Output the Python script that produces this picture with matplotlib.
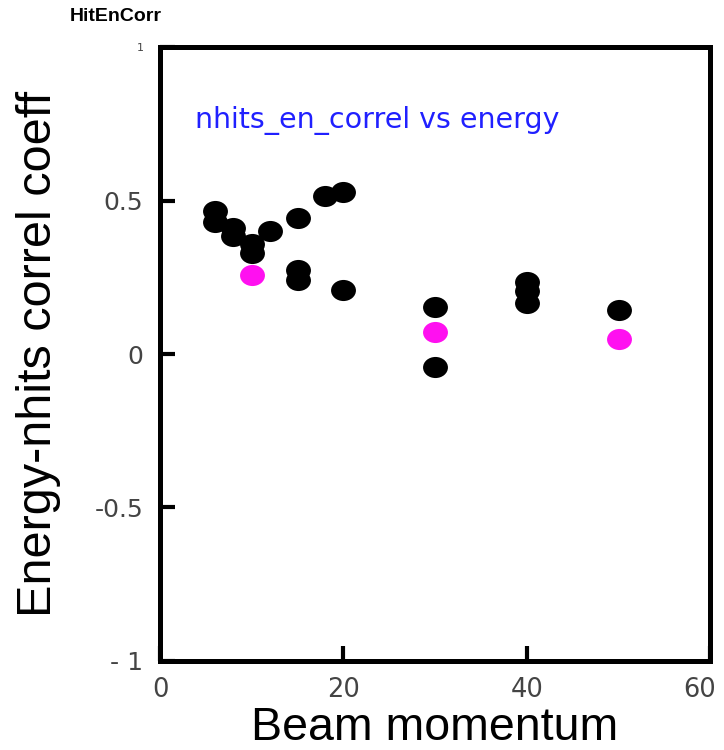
import matplotlib
matplotlib.use("Agg")
import matplotlib.pyplot as plt
from matplotlib.markers import MarkerStyle
from matplotlib.transforms import Affine2D, ScaledTranslation

# ── Data ────────────────────────────────────────────────────────────────────
black_x = [6, 6, 8, 8, 10, 10, 12, 15, 15, 15, 18, 20, 20, 30, 30, 40, 40, 40, 50]
black_y = [0.465, 0.43, 0.41, 0.385, 0.36, 0.33, 0.40, 0.443, 0.274, 0.24,
           0.515, 0.527, 0.208, 0.153, -0.042, 0.235, 0.205, 0.166, 0.143]

magenta_x = [10, 30, 50]
magenta_y = [0.257, 0.072, 0.05]

xticks = [0, 20, 40, 60]
yticks = [-1, -0.5, 0, 0.5, 1]
yticklabels = ["- 1", "-0.5", "0", "0.5", "1"]

plt.rcParams["axes.unicode_minus"] = False

fig = plt.figure(figsize=(7.24, 7.5), dpi=100)
fig.patch.set_facecolor("white")
ax = fig.add_axes([0.221, 0.119, 0.760, 0.818])

# slightly flattened dots, like the original
dot = MarkerStyle("o", transform=Affine2D().scale(1.12, 0.95))
ax.plot(black_x, black_y, linestyle="none", marker=dot, color="black", ms=16, mew=0)
ax.plot(magenta_x, magenta_y, linestyle="none", marker=dot, color="#ff10f0", ms=16, mew=0)

ax.set_xlim(0, 60)
ax.set_ylim(-1, 1)
ax.set_xticks(xticks)
ax.set_yticks(yticks)
ax.set_yticklabels(yticklabels)

for s in ax.spines.values():
    s.set_linewidth(3.6)
ax.tick_params(direction="in", length=11, width=3, pad=12,
               labelsize=18, labelcolor="#444444")
ax.tick_params(axis="x", labelsize=18.5, pad=12)
for lab in ax.get_xticklabels() + ax.get_yticklabels():
    lab.set_family("DejaVu Sans")
ax.get_yticklabels()[-1].set_fontsize(8)
# pull the last x label in a little so it stays inside the figure
last = ax.get_xticklabels()[-1]
last.set_transform(last.get_transform() + ScaledTranslation(-8 / 72, 0, fig.dpi_scale_trans))

ax.text(3.8, 0.762, "nhits_en_correl vs energy", color="#2020ff",
        fontsize=20.5, family="DejaVu Sans", va="center", ha="left")

ax.set_xlabel("Beam momentum", fontsize=33.5, family="Liberation Sans")
ax.xaxis.set_label_coords(0.5, -0.1285, transform=ax.transAxes)
ax.xaxis.label.set_va("baseline")
ax.set_ylabel("Energy-nhits correl coeff", fontsize=35, family="Liberation Sans")
ax.yaxis.set_label_coords(-0.18, 0.5)

fig.text(0.097, 0.978, "HitEnCorr", fontsize=14, fontweight="bold",
         family="Liberation Sans", va="center", ha="left")

fig.savefig("out.png", dpi=100, facecolor="white")
